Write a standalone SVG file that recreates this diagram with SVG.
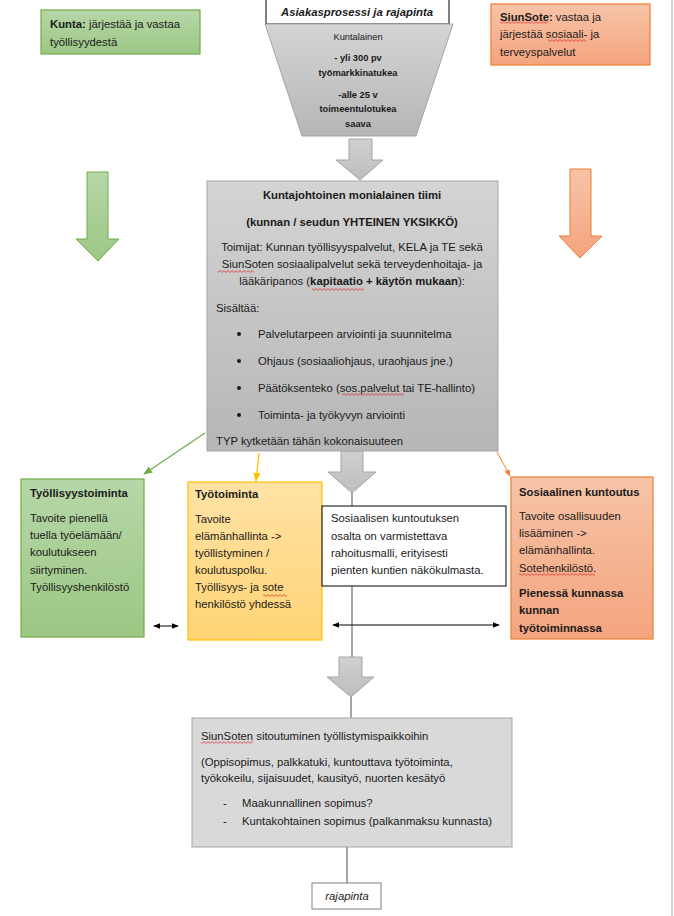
<svg xmlns="http://www.w3.org/2000/svg" width="674" height="916" viewBox="0 0 674 916">
<style>
text{font-family:"Liberation Sans",Arial,sans-serif;font-size:11.3px;fill:#1a1a1a}
.b{font-weight:bold}
.sm{font-size:9.3px}
.c{text-anchor:middle}
.gbox{fill:url(#gGreen);stroke:#70ad47;stroke-width:1.2}
.obox{fill:url(#gOrange);stroke:#ed7d31;stroke-width:1.2}
.ybox{fill:url(#gYellow);stroke:#ffc000;stroke-width:1.2}
.grey{fill:url(#gGrey);stroke:#a5a5a5;stroke-width:1}
.garrow{fill:url(#gArrow);stroke:#a5a5a5;stroke-width:1}
.line{stroke:#a5a5a5;stroke-width:2;fill:none}
.dbl{stroke:#000;stroke-width:1;fill:none;marker-start:url(#mB);marker-end:url(#mB)}
.sq{fill:url(#wave)}
</style>
<defs>
<linearGradient id="gGreen" x1="0" y1="0" x2="0" y2="1"><stop offset="0" stop-color="#b6d7a8"/><stop offset="1" stop-color="#9cc784"/></linearGradient>
<linearGradient id="gOrange" x1="0" y1="0" x2="0" y2="1"><stop offset="0" stop-color="#f7c4a8"/><stop offset="1" stop-color="#f4a47e"/></linearGradient>
<linearGradient id="gYellow" x1="0" y1="0" x2="0" y2="1"><stop offset="0" stop-color="#ffe2a4"/><stop offset="1" stop-color="#ffd476"/></linearGradient>
<linearGradient id="gGrey" x1="0" y1="0" x2="0" y2="1"><stop offset="0" stop-color="#d4d4d4"/><stop offset="1" stop-color="#b6b6b6"/></linearGradient>
<linearGradient id="gArrow" x1="0" y1="0" x2="0" y2="1"><stop offset="0" stop-color="#d0d0d0"/><stop offset="1" stop-color="#bdbdbd"/></linearGradient>
<marker id="mG" viewBox="0 0 10 10" refX="9" refY="5" markerWidth="7" markerHeight="7" orient="auto"><path d="M0,1 L10,5 L0,9 z" fill="#70ad47"/></marker>
<marker id="mY" viewBox="0 0 10 10" refX="9" refY="5" markerWidth="7" markerHeight="7" orient="auto"><path d="M0,1 L10,5 L0,9 z" fill="#ffc000"/></marker>
<marker id="mO" viewBox="0 0 10 10" refX="9" refY="5" markerWidth="7" markerHeight="7" orient="auto"><path d="M0,1 L10,5 L0,9 z" fill="#ed7d31"/></marker>
<marker id="mB" viewBox="0 0 10 10" refX="9" refY="5" markerWidth="7" markerHeight="7" orient="auto-start-reverse"><path d="M0,1 L10,5 L0,9 z" fill="#000"/></marker>
<pattern id="wave" patternUnits="userSpaceOnUse" width="4" height="3"><path d="M0,0.6 L2,2.4 L4,0.6" stroke="#e02020" stroke-width="0.7" fill="none"/></pattern>
</defs>

<line x1="672" y1="0" x2="672" y2="916" stroke="#c8c8c8" stroke-width="1.5"/>

<g id="connectors">
<polygon class="garrow" points="349,139 372,139 372,160 383,160 360,180 336,160 349,160"/>
<polygon points="87,172 108,172 108,239 119,239 98,261 76,239 87,239" fill="url(#gGreen)" stroke="#70ad47" stroke-width="1"/>
<polygon points="570,169 591,169 591,236 602,236 580,258 559,236 570,236" fill="url(#gOrange)" stroke="#ed7d31" stroke-width="1"/>
<line x1="205" y1="433" x2="144" y2="474" stroke="#70ad47" stroke-width="1.3" marker-end="url(#mG)"/>
<line x1="259" y1="453" x2="256" y2="481" stroke="#ffc000" stroke-width="1.3" marker-end="url(#mY)"/>
<line x1="497" y1="452" x2="510" y2="476" stroke="#ed7d31" stroke-width="1" marker-end="url(#mO)"/>
<line class="line" x1="352" y1="490" x2="352" y2="658"/>
<polygon class="garrow" points="341,451 363,451 363,472 376,472 352,493 328,472 341,472"/>
<line class="dbl" x1="154" y1="626" x2="178" y2="626"/>
<line class="dbl" x1="333" y1="625" x2="499" y2="625"/>
<line class="line" x1="351" y1="695" x2="351" y2="718"/>
<polygon class="garrow" points="339,657 362,657 362,677 374,677 351,697 327,677 339,677"/>
<line class="line" x1="347" y1="847" x2="347" y2="883"/>
</g>

<g id="kunta">
<rect class="gbox" x="41" y="10" width="159" height="44"/>
<text x="50" y="28"><tspan class="b">Kunta:</tspan> järjestää ja vastaa</text>
<text x="50" y="46">työllisyydestä</text>
</g>

<g id="siunsote">
<rect class="obox" x="491" y="4" width="159" height="61"/>
<text x="500" y="21"><tspan class="b">SiunSote:</tspan> vastaa ja</text>
<text x="500" y="38">järjestää sosiaali- ja</text>
<text x="500" y="56">terveyspalvelut</text>
<rect class="sq" x="500" y="21" width="48" height="3"/>
<rect class="sq" x="548" y="39" width="38" height="3"/>
</g>

<g id="title">
<rect x="266" y="-1" width="183" height="25" fill="#fff" stroke="#000" stroke-width="1"/>
<text class="b c" x="357" y="16" font-style="italic" font-size="11">Asiakasprosessi ja rajapinta</text>
</g>

<g id="kuntalainen">
<polygon points="265,24 453,24 416,136 302,136" fill="url(#gGrey)" stroke="#a5a5a5" stroke-width="1"/>
<text class="sm c" x="358" y="40">Kuntalainen</text>
<text class="sm b c" x="358" y="61">- yli 300 pv</text>
<text class="sm b c" x="358" y="76">työmarkkinatukea</text>
<text class="sm b c" x="358" y="98">-alle 25 v</text>
<text class="sm b c" x="358" y="112">toimeentulotukea</text>
<text class="sm b c" x="358" y="127">saava</text>
</g>

<g id="tiimi">
<rect class="grey" x="207" y="181" width="291" height="270"/>
<text class="b c" x="352" y="199">Kuntajohtoinen monialainen tiimi</text>
<text class="b c" x="352" y="226">(kunnan / seudun YHTEINEN YKSIKKÖ)</text>
<text class="c" x="352" y="251">Toimijat: Kunnan työllisyyspalvelut, KELA ja TE sekä</text>
<text class="c" x="352" y="268">SiunSoten sosiaalipalvelut sekä terveydenhoitaja- ja</text>
<text class="c" x="352" y="285">lääkäripanos (<tspan class="b">kapitaatio + käytön mukaan</tspan>):</text>
<text x="216" y="312">Sisältää:</text>
<circle cx="239" cy="334" r="2" fill="#1a1a1a"/>
<circle cx="239" cy="361" r="2" fill="#1a1a1a"/>
<circle cx="239" cy="388" r="2" fill="#1a1a1a"/>
<circle cx="239" cy="415" r="2" fill="#1a1a1a"/>
<text x="258" y="338">Palvelutarpeen arviointi ja suunnitelma</text>
<text x="258" y="365">Ohjaus (sosiaaliohjaus, uraohjaus jne.)</text>
<text x="258" y="392">Päätöksenteko (sos.palvelut tai TE-hallinto)</text>
<text x="258" y="419">Toiminta- ja työkyvyn arviointi</text>
<text x="216" y="445">TYP kytketään tähän kokonaisuuteen</text>
<rect class="sq" x="218" y="270" width="36" height="3"/>
<rect class="sq" x="312" y="288" width="52" height="3"/>
<rect class="sq" x="342" y="393" width="62" height="3"/>
</g>

<g id="tyollisyystoiminta">
<rect class="gbox" x="21" y="479" width="123" height="158"/>
<text class="b" x="30" y="497">Työllisyystoiminta</text>
<text x="30" y="522">Tavoite pienellä</text>
<text x="30" y="539">tuella työelämään/</text>
<text x="30" y="556">koulutukseen</text>
<text x="30" y="574">siirtyminen.</text>
<text x="30" y="591">Työllisyyshenkilöstö</text>
</g>

<g id="tyotoiminta">
<rect class="ybox" x="188" y="482" width="134" height="158"/>
<text class="b" x="195" y="498">Työtoiminta</text>
<text x="195" y="523">Tavoite</text>
<text x="195" y="540">elämänhallinta -&gt;</text>
<text x="195" y="557">työllistyminen /</text>
<text x="195" y="574">koulutuspolku.</text>
<text x="195" y="591">Työllisyys- ja sote</text>
<text x="195" y="608">henkilöstö yhdessä</text>
<rect class="sq" x="263" y="594" width="24" height="3"/>
</g>

<g id="huomio">
<rect x="322" y="506" width="184" height="80" fill="#fff" stroke="#000" stroke-width="1"/>
<text x="331" y="522">Sosiaalisen kuntoutuksen</text>
<text x="331" y="540">osalta on varmistettava</text>
<text x="331" y="557">rahoitusmalli, erityisesti</text>
<text x="331" y="574">pienten kuntien näkökulmasta.</text>
</g>

<g id="sosiaalinen-kuntoutus">
<rect class="obox" x="511" y="477" width="142" height="162"/>
<text class="b" x="519" y="496">Sosiaalinen kuntoutus</text>
<text x="519" y="520">Tavoite osallisuuden</text>
<text x="519" y="537">lisääminen -&gt;</text>
<text x="519" y="554">elämänhallinta.</text>
<text x="519" y="572">Sotehenkilöstö.</text>
<text class="b" x="519" y="597">Pienessä kunnassa</text>
<text class="b" x="519" y="614">kunnan</text>
<text class="b" x="519" y="632">työtoiminnassa</text>
<rect class="sq" x="519" y="573" width="76" height="3"/>
</g>

<g id="sitoutuminen">
<rect x="192" y="718" width="320" height="129" fill="#d9d9d9" stroke="#a5a5a5" stroke-width="1"/>
<text x="201" y="740">SiunSoten sitoutuminen työllistymispaikkoihin</text>
<text x="201" y="766">(Oppisopimus, palkkatuki, kuntouttava työtoiminta,</text>
<text x="201" y="782">työkokeilu, sijaisuudet, kausityö, nuorten kesätyö</text>
<text x="223" y="807">-</text>
<text x="242" y="807">Maakunnallinen sopimus?</text>
<text x="223" y="825">-</text>
<text x="242" y="825">Kuntakohtainen sopimus (palkanmaksu kunnasta)</text>
<rect class="sq" x="201" y="741" width="52" height="3"/>
</g>

<g id="rajapinta">
<rect x="312" y="883" width="69" height="26" fill="#fff" stroke="#808080" stroke-width="1"/>
<text class="c" x="347" y="900" font-style="italic">rajapinta</text>
</g>
</svg>
